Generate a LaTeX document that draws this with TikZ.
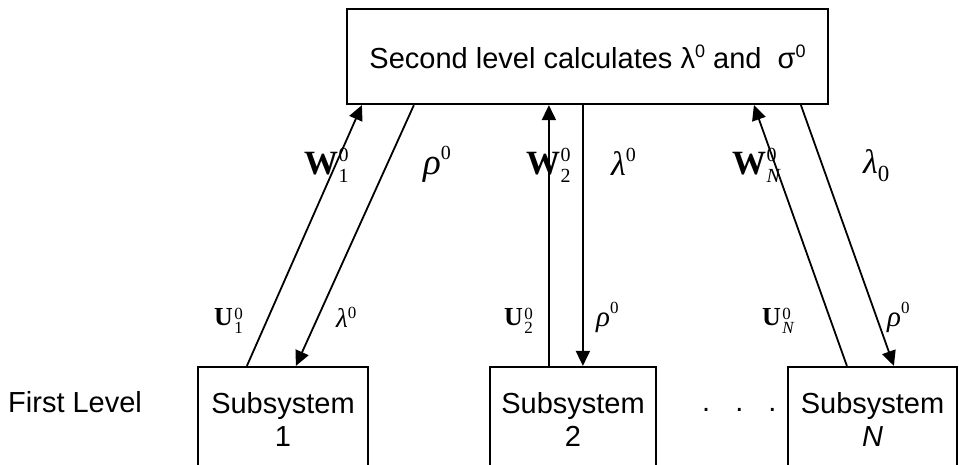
\documentclass[tikz,border=0pt]{standalone}
\usepackage{fontspec}
\setmainfont{Liberation Sans}
\newfontfamily\tms{Liberation Serif}
\usetikzlibrary{arrows.meta}
\newcommand\fs[1]{\fontsize{#1}{#1}\selectfont}
\newcommand\Wl[1]{{\fs{34}\bfseries W}\kern0.5pt\rlap{\raisebox{13pt}{\fs{20}0}}\raisebox{-8pt}{\fs{20}#1}}
\newcommand\Ul[1]{{\fs{26}\bfseries U}\kern1.5pt\rlap{\raisebox{6pt}{\fs{17}0}}\raisebox{-8pt}{\fs{17}#1}}
\begin{document}
\begin{tikzpicture}[x=1pt,y=-1pt,
  box/.style={draw,line width=2.2pt,inner sep=0pt,fill=white},
  conn/.style={line width=1.8pt},
  arr/.style={conn,-{Triangle[length=15pt,width=14pt]}},
  lab/.style={anchor=base west,inner sep=0pt,font=\tms}]
\useasboundingbox (0,0) rectangle (959,464);
\node[box,minimum width=481pt,minimum height=95pt,font=\fs{29}] (top) at (587.5,56.5)
  {Second level calculates λ\raisebox{11pt}{\fs{18}0} and\ \ σ\raisebox{11pt}{\fs{18}0}};
\node[box,minimum width=170pt,minimum height=104pt,align=center,font=\fontsize{29}{33}\selectfont] (sub1) at (283,419) {Subsystem\\1};
\node[box,minimum width=166pt,minimum height=104pt,align=center,font=\fontsize{29}{33}\selectfont] (sub2) at (573,419) {Subsystem\\2};
\node[box,minimum width=169pt,minimum height=104pt,align=center,font=\fontsize{29}{33}\selectfont] (subN) at (872.5,419) {Subsystem\\\textit{N}};
\node[anchor=base west,inner sep=0pt,font=\fs{29}] (first) at (8,412) {First Level};
\node[anchor=base west,inner sep=0pt,font=\fs{29}] (dots) at (702,411) {.\hspace{25pt}.\hspace{25pt}.};
% connectors
\draw[arr] ([xshift=50pt]sub1.north west) -- ([xshift=16pt]top.south west);
\draw[arr] ([xshift=68pt]top.south west) -- ([xshift=99pt]sub1.north west);
\draw[arr] ([xshift=60pt]sub2.north west) -- ([xshift=203pt]top.south west);
\draw[arr] ([xshift=237pt]top.south west) -- ([xshift=94pt]sub2.north west);
\draw[arr] ([xshift=60pt]subN.north west) -- ([xshift=408pt]top.south west);
\draw[arr] ([xshift=455pt]top.south west) -- ([xshift=107pt]subN.north west);
% labels
\node[lab] (w1) at (304,174) {\Wl{1}};
\node[lab] (w2) at (526,174) {\Wl{2}};
\node[lab] (wN) at (732,174) {\Wl{\itshape N}};
\node[lab] (r1) at (423,174) {{\fs{37}\itshape ρ}\raisebox{15pt}{\fs{20}0}};
\node[lab] (l2) at (611,175) {{\fs{34}\itshape λ}\raisebox{14pt}{\fs{20}0}};
\node[lab] (lN) at (863,173) {{\fs{34}\itshape λ}\raisebox{-8pt}{\fs{23}0}};
\node[lab] (u1) at (214,325) {\Ul{1}};
\node[lab] (u2) at (504,325) {\Ul{2}};
\node[lab] (uN) at (762,325) {\Ul{\itshape N}};
\node[lab] (lb1) at (336,327) {{\fs{27}\itshape λ}\raisebox{9pt}{\fs{17}0}};
\node[lab] (rb2) at (596,326) {{\fs{29}\itshape ρ}\raisebox{13pt}{\fs{17}0}};
\node[lab] (rbN) at (887,326) {{\fs{29}\itshape ρ}\raisebox{13pt}{\fs{17}0}};
\end{tikzpicture}
\end{document}
